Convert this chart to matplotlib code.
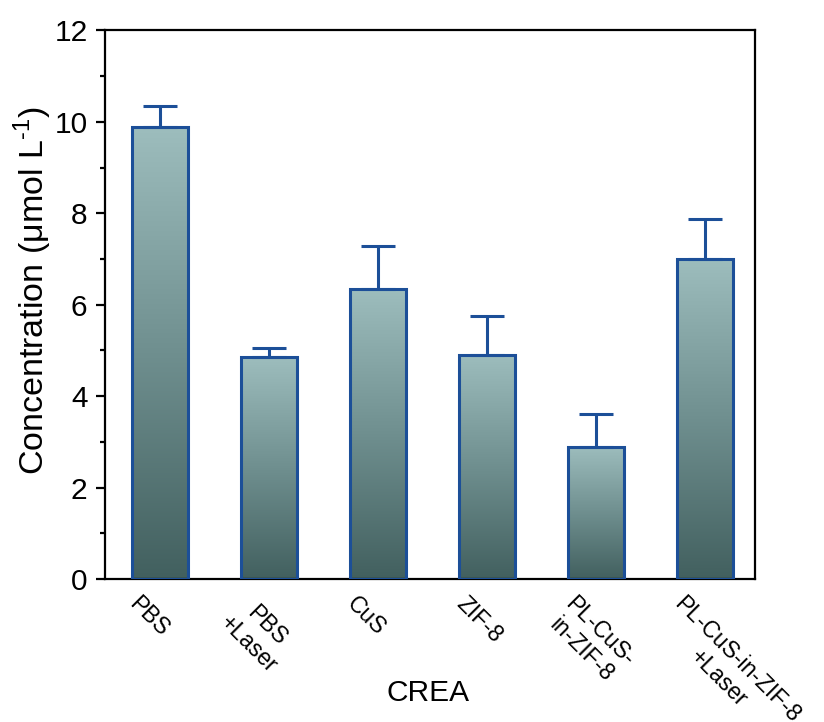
import numpy as np
import matplotlib
matplotlib.use("Agg")
import matplotlib.pyplot as plt
from matplotlib.colors import LinearSegmentedColormap
from matplotlib.transforms import ScaledTranslation, blended_transform_factory

categories = ["PBS", "PBS\n+Laser", "CuS", "ZIF-8", "PL-CuS-\nin-ZIF-8", "PL-CuS-in-ZIF-8\n+Laser"]
means = [9.88, 4.85, 6.34, 4.90, 2.89, 6.99]
errors = [0.46, 0.20, 0.94, 0.85, 0.72, 0.88]
y_ticks = [0, 2, 4, 6, 8, 10, 12]

plt.rcParams['font.family'] = ['Liberation Sans', 'DejaVu Sans']
plt.rcParams['mathtext.fontset'] = 'custom'
plt.rcParams['mathtext.rm'] = 'Liberation Sans'

edge_blue = "#1c4f98"
grad = LinearSegmentedColormap.from_list("teal", ["#42605f", "#6f8f8f", "#9dbdbd"])

fig = plt.figure(figsize=(8.24, 7.22), dpi=100)
ax = fig.add_axes([0.1274, 0.198, 0.7889, 0.760])

x = np.arange(len(categories))
bars = ax.bar(x, means, width=0.51, color="none", edgecolor=edge_blue, linewidth=2.2, zorder=3)

# vertical gradient fill inside each bar
g = np.linspace(0, 1, 256).reshape(-1, 1)
for b in bars:
    x0, w, h = b.get_x(), b.get_width(), b.get_height()
    im = ax.imshow(g, cmap=grad, origin="lower", aspect="auto",
                   extent=(x0, x0 + w, 0, h), zorder=2, interpolation="bilinear")
    im.set_clip_path(b)

ax.errorbar(x, means, yerr=[np.zeros(len(errors)), errors], fmt="none",
            ecolor=edge_blue, elinewidth=2.2, capsize=12.5, capthick=2.2, zorder=2.5)

ax.set_xlim(-0.505, 5.46)
ax.set_ylim(0, 12)
ax.set_yticks(y_ticks)
ax.set_yticks(np.arange(1, 12, 2), minor=True)
ax.set_xticks(x)
ax.set_xticklabels([])
ax.tick_params(axis="x", length=0)

# slanted category labels, starting a little left of each tick
lab_tr = (blended_transform_factory(ax.transData, ax.transAxes)
          + ScaledTranslation(-0.19, -0.13, fig.dpi_scale_trans))
for xi, name in zip(x, categories):
    ax.text(xi, 0, name, transform=lab_tr, rotation=-45, rotation_mode="anchor",
            ha="left", va="top", multialignment="center", fontsize=16.5, clip_on=False)

ax.tick_params(axis="y", which="major", direction="out", length=6.5, width=1.6, labelsize=21.5, pad=6)
ax.tick_params(axis="y", which="minor", direction="out", length=3.5, width=1.6)
for s in ax.spines.values():
    s.set_linewidth(1.6)
    s.set_color("black")

ax.set_ylabel("Concentration (\u03bcmol L$^{\\text{-1}}$)", fontsize=24.5, va="center", ha="center")
ax.yaxis.set_label_coords(-0.111, 0.526)
ax.set_xlabel("CREA", fontsize=21.5, va="center", ha="center")
ax.xaxis.set_label_coords(0.497, -0.208)

fig.savefig("out.png", dpi=100, facecolor="white")
